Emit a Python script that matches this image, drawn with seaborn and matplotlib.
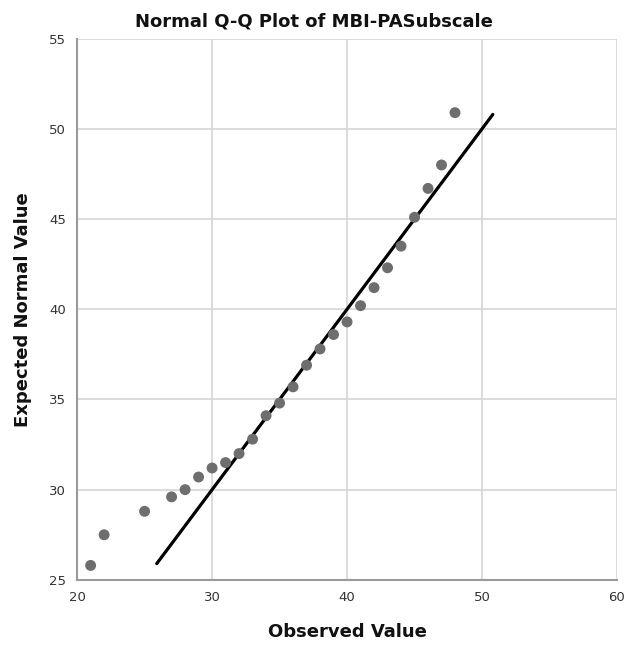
import matplotlib
matplotlib.use("Agg")
import matplotlib.pyplot as plt
import seaborn as sns
import pandas as pd

observed = [21, 22, 25, 27, 28, 29, 30, 31, 32, 33, 34, 35, 36, 37, 38, 39, 40,
            41, 42, 43, 44, 45, 46, 47, 48]
expected = [25.8, 27.5, 28.8, 29.6, 30.0, 30.7, 31.2, 31.5, 32.0, 32.8, 34.1, 34.8,
            35.7, 36.9, 37.8, 38.6, 39.3, 40.2, 41.2, 42.3, 43.5, 45.1, 46.7, 48.0, 50.9]
line_x = [25.9, 50.8]
line_y = [25.9, 50.8]
x_ticks = [20, 30, 40, 50, 60]
y_ticks = [25, 30, 35, 40, 45, 50, 55]

sns.set_theme(style="white")
plt.rcParams['font.family'] = ['DejaVu Sans']

df = pd.DataFrame({"Observed Value": observed, "Expected Normal Value": expected})
ldf = pd.DataFrame({"x": line_x, "y": line_y})

fig = plt.figure(figsize=(6.27, 6.45), dpi=100)
ax = fig.add_axes([0.123, 0.101, 0.861, 0.839])

sns.lineplot(data=ldf, x="x", y="y", color="black", linewidth=2.3, ax=ax, zorder=3)
sns.scatterplot(data=df, x="Observed Value", y="Expected Normal Value", color="#6e6e6e",
                s=62, edgecolor="none", ax=ax, zorder=4)

ax.set_xlim(20, 60)
ax.set_ylim(25, 55)
ax.set_xticks(x_ticks)
ax.set_yticks(y_ticks)
ax.grid(True, color="#d6d6d6", linewidth=1.2)
ax.set_axisbelow(True)
for s in ["top", "right"]:
    ax.spines[s].set_visible(False)
for s in ["left", "bottom"]:
    ax.spines[s].set_color("#9a9a9a")
    ax.spines[s].set_linewidth(1.5)
ax.tick_params(axis="both", labelsize=9.5, colors="#333333", length=0)
ax.tick_params(axis="x", pad=8)
ax.tick_params(axis="y", pad=8)
ax.set_xlabel("Observed Value", fontsize=13, fontweight="bold", labelpad=14, color="#111111")
ax.set_ylabel("Expected Normal Value", fontsize=13, fontweight="bold", labelpad=12, color="#111111")
fig.text(0.5, 0.966, "Normal Q-Q Plot of MBI-PASubscale", ha="center", va="center",
         fontsize=13, fontweight="bold", color="#111111")

fig.savefig("out.png", dpi=100)
